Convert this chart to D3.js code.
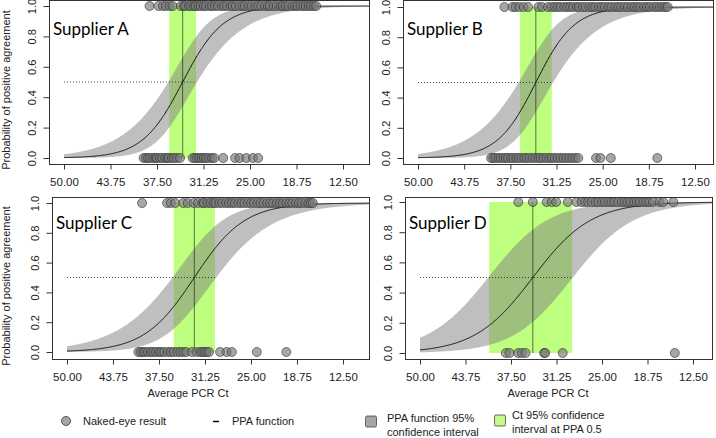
<!DOCTYPE html>
<html>
<head>
<meta charset="utf-8">
<script src="https://cdn.jsdelivr.net/npm/d3@7/dist/d3.min.js"></script>
<style>
	body { margin: 0; background: #fff; }
	svg { display: block; }
	text { font-family: "Liberation Sans", Arial, sans-serif; }
</style>
</head>
<body>
<svg id="chart" width="716" height="438"></svg>
<script>
// Data
const suppliers = ['Supplier A', 'Supplier B', 'Supplier C', 'Supplier D']
const midCt = [34.05, 34.05, 32.7, 34.5]        // Ct at PPA 0.5
const slope = [2.7, 2.6, 3.4, 4.0]              // Ct units per logit unit
const ciHigh = [35.85, 36.2, 35.5, 40.5]        // left edge of green band
const ciLow = [32.25, 31.9, 29.9, 29.1]         // right edge of green band
const bandSpread = [5, 5.5, 8.5, 30]

const positives = [
	[38.5, 37.3, 36.7, 36.3, 35.8, 35.4, 34.3, 33.9, 33.7, 33.2, 32.9, 32.5, 32.3, 31.9, 31.6, 31.2, 30.9, 30.4, 30.1, 29.7, 29.3, 28.8, 28.5, 28.1, 27.6, 27.3, 26.9, 26.4, 26.0, 25.7, 25.2, 24.8, 24.3, 23.9, 23.5, 23.0, 22.6, 22.3, 21.8, 21.4, 20.9, 20.6, 20.2, 19.8, 19.3, 18.9, 18.6, 18.2, 17.8, 17.5, 17.1, 16.8, 16.4, 16.1],
	[38.3, 37.2, 36.8, 36.3, 35.7, 35.1, 33.7, 33.2, 32.4, 31.9, 31.5, 31.1, 30.7, 30.2, 29.8, 29.4, 29.0, 28.5, 28.2, 27.7, 27.3, 26.8, 26.4, 26.0, 25.5, 25.1, 24.7, 24.2, 23.8, 23.3, 22.9, 22.5, 22.0, 21.6, 21.1, 20.7, 20.3, 19.9, 19.4, 19.0, 18.6, 18.1, 17.7, 17.3, 16.9, 16.5, 16.2],
	[39.8, 36.4, 35.9, 35.3, 34.2, 33.6, 32.8, 32.2, 31.6, 31.4, 30.9, 30.5, 30.1, 29.8, 29.3, 28.9, 28.4, 28.0, 27.6, 27.2, 26.7, 26.3, 25.9, 25.4, 25.0, 24.6, 24.1, 23.7, 23.3, 22.8, 22.4, 22.0, 21.5, 21.1, 20.7, 20.2, 19.8, 19.4, 18.9, 18.5, 18.1, 17.6, 17.2, 16.9, 16.6],
	[36.5, 34.5, 32.6, 31.9, 31.3, 29.7, 28.5, 27.8, 27.3, 26.9, 26.4, 25.9, 25.5, 25.0, 24.6, 24.1, 23.7, 23.3, 22.8, 22.3, 21.9, 21.5, 21.1, 20.6, 20.2, 19.8, 19.3, 18.9, 18.5, 18.0, 17.1, 16.6, 15.2]
]
const negatives = [
	[39.3, 39.0, 38.7, 38.4, 38.0, 37.7, 37.5, 37.1, 36.8, 36.4, 36.1, 35.9, 35.5, 35.2, 34.8, 34.4, 32.7, 32.4, 32.1, 31.8, 31.5, 31.2, 30.9, 30.5, 30.1, 29.8, 28.6, 27.0, 26.4, 25.5, 24.6, 23.9],
	[40.1, 39.8, 39.5, 39.1, 38.8, 38.4, 38.1, 37.8, 37.4, 37.1, 36.7, 36.4, 36.0, 35.6, 35.3, 34.9, 34.5, 34.1, 33.7, 33.4, 33.0, 32.6, 32.2, 31.9, 31.5, 31.1, 30.7, 30.3, 29.9, 29.5, 29.1, 28.7, 28.3, 25.9, 25.3, 23.9, 17.6],
	[40.3, 40.0, 39.7, 39.4, 39.0, 38.6, 38.3, 37.9, 37.5, 37.2, 36.8, 36.3, 35.9, 35.5, 35.0, 34.6, 34.2, 33.8, 33.0, 32.4, 31.9, 31.6, 31.3, 31.0, 30.7, 29.2, 28.3, 27.6, 24.2, 20.2],
	[38.2, 37.7, 36.5, 36.0, 35.5, 32.95, 32.8, 30.4, 15.0]
]

const xTicks = [50, 43.75, 37.5, 31.25, 25, 18.75, 12.5]
const yTicks = [0, 0.2, 0.4, 0.6, 0.8, 1]
const legendLabels = [['Naked-eye result'], ['PPA function'], ['PPA function 95%', 'confidence interval'], ['Ct 95% confidence', 'interval at PPA 0.5']]

// Panel layout
const panels = [
	{ left: 49, right: 369, top: 0, bottom: 164, x50: 64, x125: 343, yLow: 158, yHigh: 6, titleY: 90 },
	{ left: 403, right: 713, top: 0, bottom: 164, x50: 418, x125: 695, yLow: 158, yHigh: 7 },
	{ left: 52, right: 369, top: 197, bottom: 359, x50: 67, x125: 343, yLow: 352, yHigh: 203, titleY: 286, xTitle: 188 },
	{ left: 405, right: 712, top: 197, bottom: 359, x50: 420, x125: 693, yLow: 353, yHigh: 202, xTitle: 548 }
]

const svg = d3.select('#chart')
const prob = v => 1 / (1 + Math.exp(-v))

suppliers.forEach((name, i) => {
	const p = panels[i]
	const x = d3.scaleLinear().domain([50, 12.5]).range([p.x50, p.x125])
	const y = d3.scaleLinear().domain([0, 1]).range([p.yLow, p.yHigh])
	const ctEnd = x.invert(p.right)

	const logit = ct => (midCt[i] - ct) / slope[i]
	const spread = ct => Math.sqrt(1 + ((ct - midCt[i]) / bandSpread[i]) ** 2)
	const wHigh = (ciHigh[i] - midCt[i]) / slope[i]
	const wLow = (midCt[i] - ciLow[i]) / slope[i]
	const grid = d3.range(50, ctEnd, -0.1).concat([ctEnd])

	const g = svg.append('g').attr('class', 'panel')

	// Ct 95% CI at PPA 0.5
	g.append('rect')
		.attr('x', x(ciHigh[i]))
		.attr('y', y(1))
		.attr('width', x(ciLow[i]) - x(ciHigh[i]))
		.attr('height', y(0) - y(1))
		.style('fill', '#7fff00')
		.style('fill-opacity', 0.5)

	// PPA function 95% CI
	const band = d3.area()
		.x(ct => x(ct))
		.y0(ct => y(prob(logit(ct) - wLow * spread(ct))))
		.y1(ct => y(prob(logit(ct) + wHigh * spread(ct))))

	g.append('path')
		.attr('d', band(grid))
		.style('fill', '#7f7f7f')
		.style('fill-opacity', 0.5)

	// PPA function
	const line = d3.line()
		.x(ct => x(ct))
		.y(ct => y(prob(logit(ct))))

	g.append('path')
		.attr('d', line(grid))
		.style('fill', 'none')
		.style('stroke', '#111')
		.style('stroke-width', 1)

	g.append('line')
		.attr('x1', x(50)).attr('x2', x(ciLow[i]))
		.attr('y1', y(0.5)).attr('y2', y(0.5))
		.style('stroke', '#222')
		.style('stroke-width', 0.8)
		.style('stroke-dasharray', '1,2')

	g.append('line')
		.attr('x1', x(midCt[i])).attr('x2', x(midCt[i]))
		.attr('y1', y(0)).attr('y2', y(1))
		.style('stroke', '#000')
		.style('stroke-opacity', 0.55)
		.style('stroke-width', 1)

	// Naked-eye results
	const dots = positives[i].map(ct => ({ ct, v: 1 })).concat(negatives[i].map(ct => ({ ct, v: 0 })))
	g.selectAll('circle.result')
		.data(dots)
		.enter()
		.append('circle')
		.attr('class', 'result')
		.attr('cx', d => x(d.ct))
		.attr('cy', d => y(d.v))
		.attr('r', 4.5)
		.style('fill', 'rgb(120,120,120)')
		.style('fill-opacity', 0.65)
		.style('stroke', '#222')
		.style('stroke-opacity', 0.8)
		.style('stroke-width', 0.7)

	// Box
	g.append('rect')
		.attr('x', p.left + 0.5)
		.attr('y', p.top + 0.5)
		.attr('width', p.right - p.left)
		.attr('height', p.bottom - p.top)
		.style('fill', 'none')
		.style('stroke', '#333')
		.style('stroke-width', 1)

	// Axes
	const xAxis = g.append('g')
		.attr('transform', `translate(0,${p.bottom + 0.5})`)
		.attr('color', '#333')
		.call(d3.axisBottom(x).tickValues(xTicks).tickSize(5).tickPadding(8).tickFormat(d3.format('.2f')))
	xAxis.select('.domain').remove()
	xAxis.selectAll('text')
		.style('font-size', '11.5px')
		.style('fill', '#222')

	const yAxis = g.append('g')
		.attr('transform', `translate(${p.left + 0.5},0)`)
		.attr('color', '#333')
		.call(d3.axisLeft(y).tickValues(yTicks).tickSize(6).tickFormat(d3.format('.1f')))
	yAxis.select('.domain').remove()
	yAxis.selectAll('text')
		.attr('x', null)
		.attr('dy', null)
		.attr('text-anchor', 'middle')
		.attr('transform', 'translate(-14,0) rotate(-90)')
		.style('font-size', '11px')
		.style('fill', '#222')

	if (p.titleY) {
		g.append('text')
			.attr('transform', `translate(10,${p.titleY}) rotate(-90)`)
			.attr('text-anchor', 'middle')
			.style('font-size', '11px')
			.style('fill', '#222')
			.text('Probability of positive agreement')
	}
	if (p.xTitle) {
		g.append('text')
			.attr('x', p.xTitle)
			.attr('y', 397)
			.attr('text-anchor', 'middle')
			.style('font-size', '11px')
			.style('fill', '#222')
			.text('Average PCR Ct')
	}

	g.append('text')
		.attr('x', p.left + (i % 2 ? 4 : 4))
		.attr('y', p.top + (i < 2 ? 35 : 32))
		.style('font-family', 'Lato, sans-serif')
		.style('font-size', '17px')
		.style('fill', '#000')
		.text(name)
})

// Legend
const legend = svg.append('g').attr('class', 'legend')
const legendX = [66, 216, 371, 500]
const textX = [83, 232, 387, 512]

legend.append('circle')
	.attr('cx', legendX[0]).attr('cy', 421).attr('r', 4.5)
	.style('fill', 'rgb(120,120,120)').style('fill-opacity', 0.65)
	.style('stroke', '#222').style('stroke-width', 0.7)

legend.append('line')
	.attr('x1', legendX[1] - 3).attr('x2', legendX[1] + 3)
	.attr('y1', 421.5).attr('y2', 421.5)
	.style('stroke', '#111').style('stroke-width', 1.5)

legend.append('rect')
	.attr('x', legendX[2] - 5.5).attr('y', 416).attr('width', 11).attr('height', 11).attr('rx', 1.5)
	.style('fill', '#a6a6a6').style('stroke', '#444').style('stroke-width', 0.8)

legend.append('rect')
	.attr('x', legendX[3] - 5.5).attr('y', 415).attr('width', 11).attr('height', 11).attr('rx', 1.5)
	.style('fill', '#c2fb8a').style('stroke', '#444').style('stroke-width', 0.8)

const legendTop = [421, 421, 418, 415]
legendLabels.forEach((lines, k) => {
	legend.selectAll(null)
		.data(lines)
		.enter()
		.append('text')
		.attr('x', textX[k])
		.attr('y', (d, j) => legendTop[k] + j * 14)
		.attr('dy', '0.35em')
		.style('font-size', '11px')
		.style('fill', '#222')
		.text(d => d)
})
</script>
</body>
</html>
